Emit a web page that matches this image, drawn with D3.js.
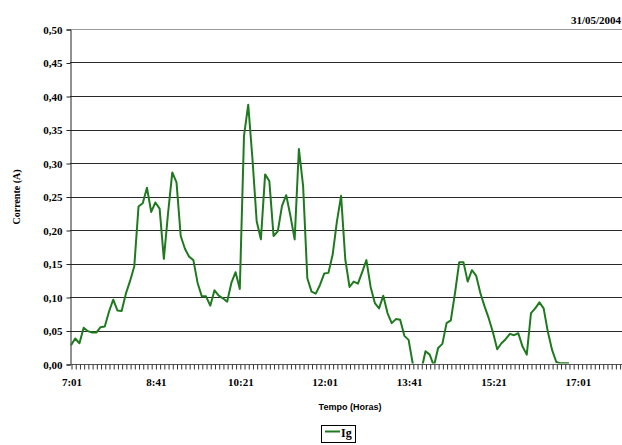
<!DOCTYPE html>
<html>
<head>
<meta charset="utf-8">
<script src="https://cdn.jsdelivr.net/npm/d3@7"></script>
<style>
  body { margin: 0; background: #fff; }
</style>
</head>
<body>
<div id="chart"></div>
<script>
// Ig current readings, one every 5 minutes starting at 7:01
const startTime = '7:01';
const stepMinutes = 5;
const categoryCount = 131;
const igValues = [
  0.028, 0.038, 0.031, 0.054, 0.049, 0.047, 0.047, 0.055, 0.056, 0.078,
  0.096, 0.080, 0.079, 0.105, 0.124, 0.146, 0.235, 0.240, 0.263, 0.227,
  0.241, 0.232, 0.157, 0.225, 0.286, 0.271, 0.191, 0.172, 0.160, 0.155,
  0.121, 0.101, 0.101, 0.087, 0.110, 0.102, 0.098, 0.093, 0.121, 0.137,
  0.112, 0.341, 0.387, 0.306, 0.213, 0.186, 0.283, 0.273, 0.191, 0.198,
  0.236, 0.252, 0.221, 0.186, 0.321, 0.266, 0.128, 0.108, 0.105, 0.118,
  0.135, 0.136, 0.163, 0.212, 0.251, 0.156, 0.115, 0.123, 0.120, 0.137,
  0.155, 0.115, 0.091, 0.083, 0.102, 0.076, 0.061, 0.067, 0.066, 0.042,
  0.036, 0.000, -0.010, -0.010, 0.019, 0.014, -0.003, 0.024, 0.030, 0.061,
  0.065, 0.106, 0.152, 0.152, 0.123, 0.140, 0.132, 0.106, 0.086, 0.068,
  0.047, 0.022, 0.031, 0.037, 0.045, 0.043, 0.046, 0.026, 0.014, 0.076,
  0.083, 0.092, 0.083, 0.048, 0.021, 0.003, 0.001, 0.001, 0.001
];
const yTicks = [0, 0.05, 0.10, 0.15, 0.20, 0.25, 0.30, 0.35, 0.40, 0.45, 0.50];
const labelEvery = 20;

const width = 622;
const height = 445;
const x0 = 71;
const xStep = 4.22;
const SERIF = '"Liberation Serif", "Times New Roman", serif';
const SANS = '"Liberation Sans", Arial, sans-serif';

function timeLabel(i) {
  const [h, m] = startTime.split(':').map(Number);
  const total = h * 60 + m + i * stepMinutes;
  return `${Math.floor(total / 60)}:${String(total % 60).padStart(2, '0')}`;
}

function serifBold(sel, size) {
  return sel
    .attr('font-family', null)
    .attr('font-size', null)
    .style('font-family', SERIF)
    .style('font-weight', 'bold')
    .style('font-size', `${size}px`)
    .attr('fill', '#000');
}

const svg = d3.select('#chart')
  .append('svg')
    .attr('width', width)
    .attr('height', height);

const x = d3.scaleLinear()
  .domain([0, categoryCount - 1])
  .range([x0, x0 + (categoryCount - 1) * xStep]);

const y = d3.scaleLinear()
  .domain([0, 0.5])
  .range([364, 29]);

// horizontal gridlines
svg.append('g')
  .selectAll('line')
    .data(yTicks.filter(d => d > 0))
    .enter()
    .append('line')
      .attr('x1', 70)
      .attr('x2', width)
      .attr('y1', d => Math.round(y(d)) + 0.5)
      .attr('y2', d => Math.round(y(d)) + 0.5)
      .attr('stroke', d => (d === 0.5 ? '#999' : '#2a2a2a'))
      .attr('stroke-width', 1);

// y axis
const yAxis = d3.axisLeft(y)
  .tickValues(yTicks)
  .tickSize(4)
  .tickPadding(4)
  .tickFormat(d => d3.format('.2f')(d).replace('.', ','));

svg.append('g')
  .attr('transform', 'translate(70.5,0.5)')
  .call(yAxis)
  .call(g => g.attr('font-family', null).attr('font-size', null))
  .call(g => g.select('.domain').attr('stroke', '#222'))
  .call(g => g.selectAll('.tick line').attr('stroke', '#222'))
  .call(g => serifBold(g.selectAll('.tick text'), 11));

// x axis, one tick per reading
const xAxis = d3.axisBottom(x)
  .tickValues(d3.range(0, categoryCount))
  .tickSize(5)
  .tickSizeOuter(0)
  .tickPadding(9)
  .tickFormat(i => (i % labelEvery === 0 ? timeLabel(i) : ''));

svg.append('g')
  .attr('transform', `translate(0.5,${Math.round(y(0)) + 0.5})`)
  .call(xAxis)
  .call(g => g.attr('font-family', null).attr('font-size', null))
  .call(g => g.select('.domain').attr('stroke', '#555').attr('d', `M${x0 - 1},0H${width}`))
  .call(g => g.selectAll('.tick line').attr('stroke', '#333'))
  .call(g => serifBold(g.selectAll('.tick text'), 11));

// clip so readings below zero disappear under the axis
svg.append('clipPath')
  .attr('id', 'plot-clip')
  .append('rect')
    .attr('x', 70)
    .attr('y', 0)
    .attr('width', width - 70)
    .attr('height', y(0) - 0.5);

const line = d3.line()
  .x((d, i) => x(i))
  .y(d => y(d));

svg.append('path')
  .datum(igValues)
  .attr('clip-path', 'url(#plot-clip)')
  .attr('fill', 'none')
  .attr('stroke', '#1f7a1f')
  .attr('stroke-width', 2)
  .attr('stroke-linejoin', 'round')
  .attr('d', line);

// titles
svg.append('text')
  .attr('text-anchor', 'middle')
  .attr('transform', 'translate(20,197) rotate(-90)')
  .text('Corrente (A)')
  .call(t => serifBold(t, 10));

svg.append('text')
  .attr('text-anchor', 'middle')
  .attr('x', 350)
  .attr('y', 410)
  .style('font-family', SANS)
  .style('font-weight', 'bold')
  .style('font-size', '9px')
  .text('Tempo (Horas)');

svg.append('text')
  .attr('text-anchor', 'end')
  .attr('x', 621)
  .attr('y', 24)
  .text('31/05/2004')
  .call(t => serifBold(t, 11));

// legend
const legend = svg.append('g').attr('transform', 'translate(321,425)');
legend.append('rect')
  .attr('x', 0.5)
  .attr('y', 0.5)
  .attr('width', 34)
  .attr('height', 17)
  .attr('fill', '#fff')
  .attr('stroke', '#000');
legend.append('line')
  .attr('x1', 4)
  .attr('x2', 19)
  .attr('y1', 6.5)
  .attr('y2', 6.5)
  .attr('stroke', '#1f7a1f')
  .attr('stroke-width', 2);
legend.append('text')
  .attr('x', 20)
  .attr('y', 12)
  .text('Ig')
  .call(t => serifBold(t, 12));
</script>
</body>
</html>
